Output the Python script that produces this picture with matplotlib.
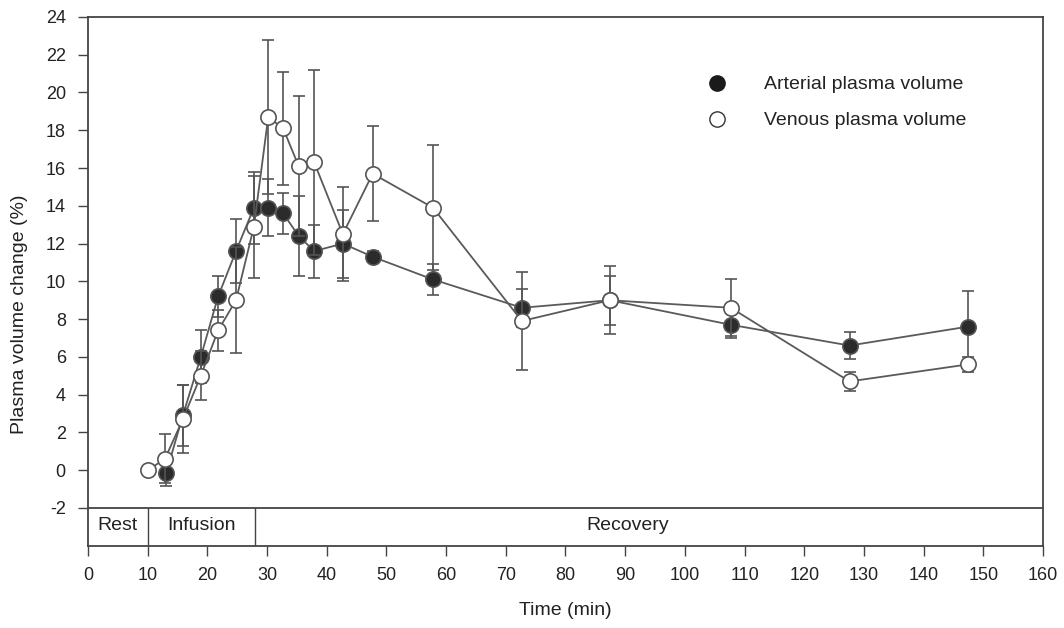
import numpy as np
import matplotlib.pyplot as plt
from matplotlib.lines import Line2D

plt.rcParams['font.family'] = ['Liberation Sans', 'DejaVu Sans']
plt.rcParams['axes.unicode_minus'] = False

# sample times (min)
t_art = [13.1, 15.9, 18.9, 21.8, 24.8, 27.8, 30.2, 32.7, 35.3, 37.9, 42.7, 47.7, 57.8, 72.7, 87.4, 107.7, 127.6, 147.4]
t_ven = [10.0, 12.9, 15.9, 18.9, 21.8, 24.8, 27.8, 30.2, 32.7, 35.3, 37.9, 42.7, 47.7, 57.8, 72.7, 87.4, 107.7, 127.6, 147.4]

# plasma volume change (%)
art = [-0.15, 2.9, 6.0, 9.2, 11.6, 13.9, 13.9, 13.6, 12.4, 11.6, 12.0, 11.3, 10.1, 8.6, 9.0, 7.7, 6.6, 7.6]
art_err = [0.7, 1.6, 1.4, 1.1, 1.7, 1.9, 1.5, 1.1, 2.1, 1.4, 1.8, 0.3, 0.8, 1.0, 1.3, 0.7, 0.7, 1.9]

ven = [0.0, 0.6, 2.7, 5.0, 7.4, 9.0, 12.9, 18.7, 18.1, 16.1, 16.3, 12.5, 15.7, 13.9, 7.9, 9.0, 8.6, 4.7, 5.6]
ven_err = [0.0, 1.3, 1.8, 1.3, 1.1, 2.8, 2.7, 4.1, 3.0, 3.7, 4.9, 2.5, 2.5, 3.3, 2.6, 1.8, 1.5, 0.5, 0.4]

phases = ["Rest", "Infusion", "Recovery"]
phase_edges = [0, 10, 28, 160]
phase_label_x = [5, 19, 90.5]

line_c = '#5a5a5a'

fig = plt.figure(figsize=(10.64, 6.28), dpi=100)
ax = fig.add_axes([0.0827, 0.131, 0.8975, 0.842])

ax.errorbar(t_art, art, yerr=art_err, fmt='o', color=line_c, ls='-', lw=1.3,
            mfc='#2b2b2b', mec='#555555', ms=11, mew=1.2, ecolor='#555555',
            elinewidth=1.2, capsize=4, capthick=1.2, zorder=3)
ax.errorbar(t_ven, ven, yerr=ven_err, fmt='o', color=line_c, ls='-', lw=1.3,
            mfc='white', mec='#555555', ms=11, mew=1.2, ecolor='#555555',
            elinewidth=1.2, capsize=4, capthick=1.2, zorder=4)

# phase band
ax.axhline(-2, color='#444444', lw=1.3)
for e in phase_edges[1:-1]:
    ax.plot([e, e], [-4, -2], color='#444444', lw=1.0)
for name, px in zip(phases, phase_label_x):
    ax.text(px, -2.95, name, ha='center', va='center', fontsize=14, color='#222222')

ax.set_xlim(0, 160)
ax.set_ylim(-4, 24)
ax.set_xticks(np.arange(0, 161, 10))
ax.set_yticks(np.arange(-2, 25, 2))
ax.tick_params(direction='out', length=7, width=1.0, labelsize=13, color='#444444', labelcolor='#222222')
ax.tick_params(axis='y', pad=9)
ax.tick_params(axis='x', pad=8)
for s in ax.spines.values():
    s.set_color('#444444')
    s.set_linewidth(1.3)

ax.set_xlabel("Time (min)", fontsize=14, labelpad=13, color='#222222')
ax.set_ylabel("Plasma volume change (%)", fontsize=14, color='#222222')
ax.yaxis.set_label_coords(-0.063, 0.437)

handles = [Line2D([], [], ls='none', marker='o', ms=11, mfc='#1a1a1a', mec='#1a1a1a'),
           Line2D([], [], ls='none', marker='o', ms=11, mfc='white', mec='#333333')]
ax.legend(handles, ["Arterial plasma volume", "Venous plasma volume"],
          loc='upper left', bbox_to_anchor=(0.62, 0.922), frameon=False,
          fontsize=14, handletextpad=1.4, labelspacing=0.95, labelcolor='#222222')

fig.savefig("out.png", dpi=100)
